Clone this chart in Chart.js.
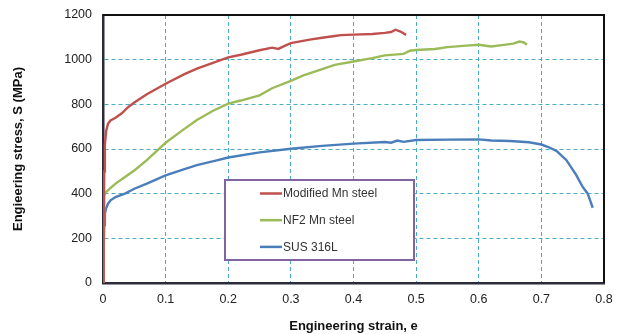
<!DOCTYPE html>
<html lang="en">
<head>
<meta charset="UTF-8">
<title>Engineering stress-strain</title>
<script src="https://cdn.jsdelivr.net/npm/chart.js"></script>
<style>
  html, body { margin: 0; padding: 0; background: #fff; }
  #wrap { width: 618px; height: 334px; position: relative; }
</style>
</head>
<body>
<div id="wrap"><canvas id="ssChart" width="618" height="334"></canvas></div>
<script>
// series labels
const seriesNames = ['Modified Mn steel', 'NF2 Mn steel', 'SUS 316L'];

// Modified Mn steel (strain, stress MPa)
const modStrain = [0, 0.001, 0.002, 0.003, 0.005, 0.008, 0.012, 0.02, 0.03, 0.04, 0.05, 0.07, 0.1, 0.13, 0.15, 0.18, 0.2, 0.22, 0.25, 0.27, 0.28, 0.29, 0.3, 0.33, 0.35, 0.37, 0.38, 0.4, 0.43, 0.45, 0.46, 0.467, 0.475, 0.484];
const modStress = [0, 250, 500, 620, 680, 713, 728, 740, 760, 787, 808, 845, 892, 935, 960, 990, 1010, 1022, 1042, 1054, 1048, 1062, 1074, 1090, 1098, 1106, 1110, 1112, 1115, 1120, 1124, 1134, 1126, 1111];

// NF2 Mn steel
const nf2Strain = [0, 0.001, 0.002, 0.004, 0.01, 0.02, 0.03, 0.05, 0.07, 0.1, 0.125, 0.15, 0.175, 0.2, 0.22, 0.25, 0.27, 0.3, 0.32, 0.35, 0.37, 0.4, 0.43, 0.45, 0.48, 0.49, 0.5, 0.53, 0.55, 0.58, 0.6, 0.62, 0.64, 0.655, 0.665, 0.672, 0.677];
const nf2Stress = [0, 200, 390, 405, 420, 445, 465, 504, 550, 628, 680, 730, 770, 803, 817, 840, 872, 905, 930, 958, 977, 992, 1007, 1019, 1026, 1040, 1043, 1048, 1056, 1063, 1067, 1059, 1066, 1072, 1081, 1077, 1067];

// SUS 316L
const susStrain = [0, 0.001, 0.002, 0.003, 0.005, 0.008, 0.012, 0.02, 0.035, 0.05, 0.07, 0.1, 0.13, 0.15, 0.18, 0.2, 0.25, 0.3, 0.35, 0.4, 0.45, 0.46, 0.47, 0.48, 0.5, 0.55, 0.6, 0.62, 0.65, 0.68, 0.7, 0.71, 0.724, 0.74, 0.756, 0.766, 0.774, 0.782];
const susStress = [0, 150, 260, 310, 335, 355, 370, 385, 400, 422, 445, 482, 510, 528, 548, 562, 585, 601, 614, 624, 631, 628, 638, 632, 640, 642, 643, 638, 636, 630, 620, 610, 592, 550, 482, 430, 400, 337];

// axis ticks
const xTicks = [0, 0.1, 0.2, 0.3, 0.4, 0.5, 0.6, 0.7, 0.8];
const yTicks = [0, 200, 400, 600, 800, 1000, 1200];

const colors = ['#C0504D', '#9BBB59', '#4A7EBB'];

function pts(xs, ys) {
  return xs.map((x, i) => ({ x: x, y: ys[i] }));
}

// top/right frame of the plot
const framePlugin = {
  id: 'frame',
  afterDatasetsDraw(chart) {
    const a = chart.chartArea;
    const ctx = chart.ctx;
    ctx.save();
    ctx.strokeStyle = '#111';
    ctx.lineWidth = 2;
    ctx.beginPath();
    ctx.moveTo(a.left, a.top);
    ctx.lineTo(a.right, a.top);
    ctx.lineTo(a.right, a.bottom);
    ctx.stroke();
    ctx.restore();
  }
};

// boxed legend inside the plot
const boxLegend = {
  id: 'boxLegend',
  afterDatasetsDraw(chart) {
    const ctx = chart.ctx;
    const bx = 225, by = 180, bw = 189, bh = 80;
    ctx.save();
    ctx.fillStyle = '#fff';
    ctx.fillRect(bx, by, bw, bh);
    ctx.strokeStyle = '#8064A2';
    ctx.lineWidth = 2;
    ctx.strokeRect(bx, by, bw, bh);
    ctx.font = '12px "Liberation Sans", Arial, sans-serif';
    ctx.textBaseline = 'middle';
    chart.data.datasets.forEach((ds, i) => {
      const y = by + 13.5 + i * 26.7;
      ctx.strokeStyle = ds.borderColor;
      ctx.lineWidth = 2.5;
      ctx.beginPath();
      ctx.moveTo(260, y);
      ctx.lineTo(282, y);
      ctx.stroke();
      ctx.fillStyle = '#333';
      ctx.fillText(ds.label, 283, y + 0.5);
    });
    ctx.restore();
  }
};

const ctx = document.getElementById('ssChart').getContext('2d');
new Chart(ctx, {
  type: 'line',
  data: {
    datasets: [
      { label: seriesNames[0], data: pts(modStrain, modStress), borderColor: colors[0] },
      { label: seriesNames[1], data: pts(nf2Strain, nf2Stress), borderColor: colors[1] },
      { label: seriesNames[2], data: pts(susStrain, susStress), borderColor: colors[2] }
    ]
  },
  options: {
    responsive: false,
    animation: false,
    devicePixelRatio: 1,
    layout: { padding: { left: 0, right: 14, top: 15, bottom: 0 } },
    elements: {
      line: { borderWidth: 2.4, tension: 0, fill: false },
      point: { radius: 0 }
    },
    plugins: {
      legend: { display: false },
      tooltip: { enabled: false }
    },
    scales: {
      x: {
        type: 'linear',
        min: 0,
        max: 0.8,
        afterFit(scale) { scale.height = 51; },
        afterBuildTicks(scale) { scale.ticks = xTicks.map(v => ({ value: v })); },
        ticks: {
          padding: 0,
          color: '#222',
          font: { family: '"Liberation Sans", Arial, sans-serif', size: 12.5 },
          callback: v => (v === 0 ? '0' : v.toFixed(1))
        },
        grid: { color: '#4BACC6', lineWidth: 1, drawTicks: true, tickLength: 9, tickColor: 'rgba(0,0,0,0)' },
        border: { display: true, color: '#2b2b3a', width: 2.5, dash: [4, 3] },
        title: {
          display: true,
          text: 'Engineering strain, e',
          color: '#111',
          font: { family: '"Liberation Sans", Arial, sans-serif', size: 13, weight: 'bold' },
          padding: { top: 3, bottom: 0 }
        }
      },
      y: {
        min: 0,
        max: 1200,
        afterFit(scale) { scale.width = 103; },
        afterBuildTicks(scale) { scale.ticks = yTicks.map(v => ({ value: v })); },
        ticks: {
          padding: 0,
          color: '#222',
          font: { family: '"Liberation Sans", Arial, sans-serif', size: 12.5 },
          callback: v => String(v)
        },
        grid: { color: '#4BACC6', lineWidth: 1, drawTicks: true, tickLength: 11, tickColor: 'rgba(0,0,0,0)' },
        border: { display: true, color: '#2b2b3a', width: 2.5, dash: [4, 3] },
        title: {
          display: true,
          text: 'Engieering stress, S (MPa)',
          color: '#111',
          font: { family: '"Liberation Sans", Arial, sans-serif', size: 13, weight: 'bold' },
          padding: { top: 11, bottom: 0 }
        }
      }
    }
  },
  plugins: [framePlugin, boxLegend]
});
</script>
</body>
</html>
